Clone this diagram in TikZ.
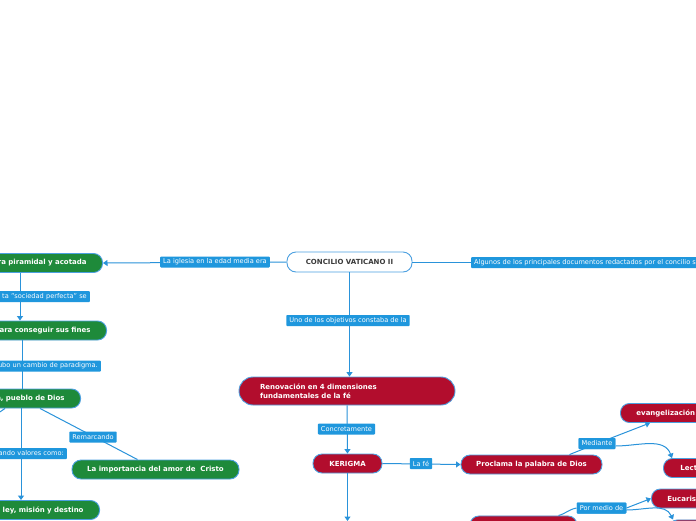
\documentclass[tikz,border=0pt]{standalone}
\usepackage{fontspec}
\setmainfont{DejaVu Sans}
\usetikzlibrary{arrows.meta}
\definecolor{lineblue}{HTML}{2A93DA}
\definecolor{labelblue}{HTML}{1F97DD}
\definecolor{ngreen}{HTML}{1E8A3A}
\definecolor{nred}{HTML}{B20D2D}
\definecolor{nborder}{HTML}{4CA0E0}
\definecolor{darktext}{HTML}{3A3A3A}
\begin{document}
\begin{tikzpicture}[x=1pt,y=-1pt,
  conn/.style={draw=lineblue,line width=1pt},
  arr/.style={conn,-{Triangle[width=6pt,length=4.5pt]}},
  lbl/.style={fill=labelblue,text=white,font=\fontsize{6.6}{7.5}\selectfont,inner xsep=3pt,inner ysep=0pt,minimum height=11pt,rounded corners=0.8pt},
  pill/.style={draw=nborder,line width=0.9pt,rounded corners=9pt,minimum height=19pt,text=white,font=\bfseries\fontsize{7}{8}\selectfont,inner ysep=0pt},
  gpill/.style={pill,fill=ngreen},
  rpill/.style={pill,fill=nred},
  lcut/.style={anchor=east,text width=150pt,align=right,inner xsep=16pt},
  rcut/.style={anchor=west,text width=120pt,align=left,inner xsep=16pt}
]
\useasboundingbox (0,0) rectangle (696,520);
\clip (0,0) rectangle (696,520);
\fill[white] (0,0) rectangle (696,520);

% ---- nodes ----
\node[pill,fill=white,text=darktext,minimum width=125pt,minimum height=20pt] (cv) at (349.5,262) {CONCILIO VATICANO II};

\node[gpill,lcut] (g1) at (103,263) {ra piramidal y acotada};
\node[gpill,lcut] (g2) at (107,330.5) {ara conseguir sus fines};
\node[gpill,lcut] (g3) at (81,398.5) {a, pueblo de Dios};
\node[gpill,minimum width=167pt] (g4) at (155.5,469.5) {La importancia del amor de\ \ Cristo};
\node[gpill,lcut] (g5) at (100,510) {ley, misión y destino};

\node[rpill,minimum width=216pt,minimum height=28pt,rounded corners=14pt,text width=174pt,align=left,inner xsep=21pt,font=\bfseries\fontsize{7}{8.5}\selectfont] (r1) at (347,391) {Renovación en 4 dimensiones\\fundamentales de la fé};
\node[rpill,minimum width=69pt] (k) at (347.5,463.5) {KERIGMA};
\node[rpill,minimum width=141pt] (p) at (531.5,464.5) {Proclama la palabra de Dios};
\node[rpill,rcut] (ev) at (620,413) {evangelización};
\node[rpill,rcut,inner xsep=17pt] (lt) at (663,468) {Lect};
\node[rpill,rcut] (eu) at (651,498.5) {Eucaris};
\node[rpill,anchor=north,minimum width=107pt] (bn) at (523.5,515.5) {};
\node[rpill,anchor=north west,minimum width=60pt] (br) at (668,519.5) {};

% ---- connectors ----
\coordinate (cvr) at (720,262);
\coordinate (kd) at (347.5,521);
\coordinate (g3l) at (-6,416);
\draw[arr] (cv.west) -- (g1.east);
\draw[conn] (cv.east) -- (cvr);
\draw[arr] (cv.south) -- (cv.south |- r1.north);
\draw[arr] (20,0 |- g1.south) -- (20,0 |- g2.north);
\draw[conn] (22,0 |- g2.south) -- (22,0 |- g3.north);
\draw[arr] (21,0 |- g3.south) -- (21,0 |- g5.north);
\draw[conn] (40,0 |- g3.south) -- ([xshift=-18pt]g4.north);
\draw[conn] (5,0 |- g3.south) -- (g3l);
\draw[arr] (r1.south) -- (k.north);
\draw[arr] (k.east) -- (p.west);
\draw[arr] (k.south) -- (kd);

\node[lbl] (lmed) at (597,443.5) {Mediante};
\node[lbl] (lpm) at (601.5,508) {Por medio de};
\draw[conn] ([xshift=38pt]p.north) -- (lmed.center);
\draw[arr] (lmed.center) -- ([xshift=30pt]ev.south west);
\draw[arr] ([yshift=-2.5pt]lmed.east) to[out=0,in=110] ([xshift=9pt]lt.north west);
\draw[conn] ([xshift=35pt]bn.north) to[out=15,in=190] (lpm.west);
\draw[arr] (lpm.east) -- (eu.west);
\draw[arr] ([yshift=-2pt]lpm.east) to[out=0,in=115] ([xshift=5pt]br.north west);

% ---- labels ----
\node[lbl] at (215,262) {La iglesia en la edad media era};
\node[lbl,anchor=west] at (471,262.5) {Algunos de los principales documentos redactados por el concilio so};
\node[lbl,anchor=east,text width=120pt,align=right] at (90,296.5) {ta "sociedad perfecta" se};
\node[lbl,anchor=east,text width=120pt,align=right] at (101,366) {ubo un cambio de paradigma.};
\node[lbl,anchor=east,text width=120pt,align=right] at (67,453.5) {ando valores como:};
\node[lbl] at (93,437) {Remarcando};
\node[lbl] at (348,320.5) {Uno de los objetivos constaba de la};
\node[lbl] at (346.5,429) {Concretamente};
\node[lbl] at (421,463.5) {La fé};
\node[lbl] at (lmed) {Mediante};
\node[lbl] at (lpm) {Por medio de};
\end{tikzpicture}
\end{document}
